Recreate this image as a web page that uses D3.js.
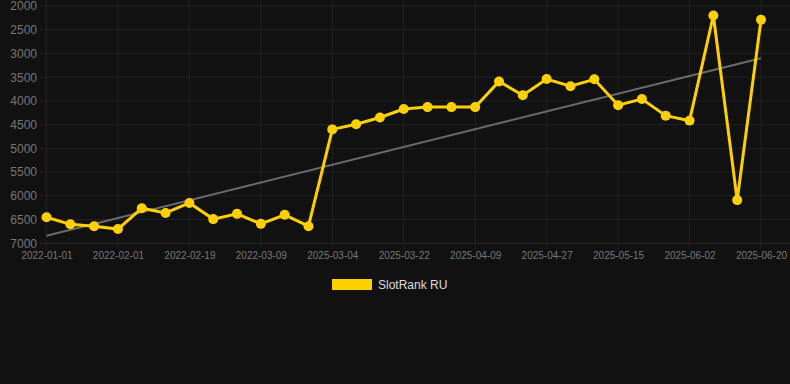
<!DOCTYPE html>
<html>
<head>
<meta charset="utf-8">
<script src="https://cdn.jsdelivr.net/npm/d3@7"></script>
<style>
  html, body { margin: 0; padding: 0; background: #111111; }
  svg { display: block; }
</style>
</head>
<body>
<svg id="chart" width="790" height="384"></svg>
<script>
const categories = [
  "2022-01-01","2022-01-11","2022-01-21","2022-02-01","2022-02-07","2022-02-13",
  "2022-02-19","2022-02-25","2022-03-03","2022-03-09","2022-03-15","2022-03-21",
  "2025-03-04","2025-03-10","2025-03-16","2025-03-22","2025-03-28","2025-04-03",
  "2025-04-09","2025-04-15","2025-04-21","2025-04-27","2025-05-03","2025-05-09",
  "2025-05-15","2025-05-21","2025-05-27","2025-06-02","2025-06-08","2025-06-14",
  "2025-06-20"
];
const rankValues = [
  6450, 6600, 6640, 6700, 6260, 6360,
  6150, 6490, 6380, 6590, 6400, 6640,
  4600, 4490, 4350, 4170, 4130, 4130,
  4130, 3590, 3880, 3540, 3690, 3545,
  4090, 3960, 4310, 4415, 2200, 6090,
  2290
];
const trendValues = [6840, 3100]; // first and last category
const yTicks = [2000, 2500, 3000, 3500, 4000, 4500, 5000, 5500, 6000, 6500, 7000];
const xTickLabels = ["2022-01-01","2022-02-01","2022-02-19","2022-03-09","2025-03-04",
  "2025-03-22","2025-04-09","2025-04-27","2025-05-15","2025-06-02","2025-06-20"];
const seriesName = "SlotRank RU";

(function () {
const svg = d3.select("#chart");
const plotLeft = 46.5, plotRight = 761, plotTop = 6, plotBottom = 243.3;

const x = d3.scalePoint().domain(categories).range([plotLeft, plotRight]);
const y = d3.scaleLinear().domain([2000, 7000]).range([plotTop, plotBottom]);

// grid
const grid = svg.append("g");
grid.selectAll("line.h").data(yTicks).enter().append("line")
  .attr("x1", 40).attr("x2", 790)
  .attr("y1", d => y(d)).attr("y2", d => y(d))
  .attr("stroke", d => d === 7000 ? "#2c2c2c" : "#222222").attr("stroke-width", 1);
grid.selectAll("line.v").data(xTickLabels).enter().append("line")
  .attr("x1", d => x(d)).attr("x2", d => x(d))
  .attr("y1", 0).attr("y2", plotBottom + 6)
  .attr("stroke", "#222222").attr("stroke-width", 1);

// y axis labels
const yAxis = d3.axisLeft(y).tickValues(yTicks).tickSize(0).tickPadding(0).tickFormat(d3.format("d"));
const gy = svg.append("g").attr("transform", "translate(37,0)").call(yAxis);
gy.select(".domain").remove();
gy.selectAll("text").attr("fill", "#777").attr("font-size", "12px")
  .attr("font-family", "Helvetica, Arial, 'Liberation Sans', sans-serif");

// x axis labels
const xAxis = d3.axisBottom(x).tickValues(xTickLabels).tickSize(0).tickPadding(0);
const gx = svg.append("g").attr("transform", "translate(0,252)").call(xAxis);
gx.select(".domain").remove();
gx.selectAll("text").attr("fill", "#777").attr("font-size", "10px")
  .attr("font-family", "Helvetica, Arial, 'Liberation Sans', sans-serif");

// trend line
svg.append("line")
  .attr("x1", x(categories[0])).attr("y1", y(trendValues[0]))
  .attr("x2", x(categories[categories.length - 1])).attr("y2", y(trendValues[1]))
  .attr("stroke", "#6b6b6b").attr("stroke-width", 2);

// series line
const color = "#FFD000";
const line = d3.line().x((d, i) => x(categories[i])).y(d => y(d));
svg.append("path").datum(rankValues)
  .attr("d", line).attr("fill", "none")
  .attr("stroke", color).attr("stroke-width", 3).attr("stroke-linejoin", "miter");

svg.selectAll("circle.pt").data(rankValues).enter().append("circle")
  .attr("cx", (d, i) => x(categories[i])).attr("cy", d => y(d))
  .attr("r", 5).attr("fill", color);

// legend
const lg = svg.append("g");
lg.append("rect").attr("x", 332).attr("y", 279).attr("width", 40).attr("height", 11)
  .attr("fill", color);
lg.append("text").attr("x", 378).attr("y", 289).text(seriesName)
  .attr("fill", "#dddddd").attr("font-size", "12px")
  .attr("font-family", "Helvetica, Arial, 'Liberation Sans', sans-serif");
})();
</script>
</body>
</html>
